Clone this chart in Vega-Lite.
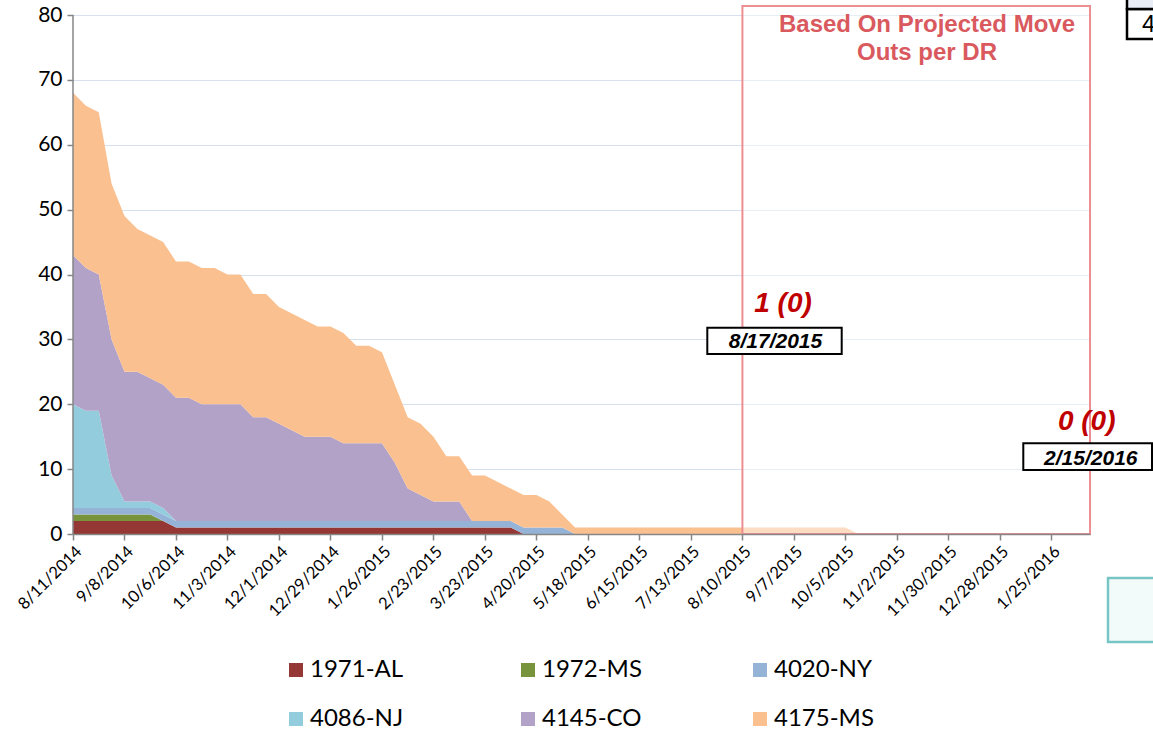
{
  "$schema": "https://vega.github.io/schema/vega-lite/v6.json",
  "width": 1017,
  "height": 519,
  "autosize": {"type": "none"},
  "padding": {"left": 73, "top": 15, "right": 63, "bottom": 202},
  "background": "white",
  "config": {"view": {"stroke": null}, "font": "Lato"},
  "layer": [
    {
      "data": {"values": [
        {"date":"2014-08-11","1971-AL":2,"1972-MS":1,"4020-NY":1,"4086-NJ":16,"4145-CO":23,"4175-MS":25},
        {"date":"2014-08-18","1971-AL":2,"1972-MS":1,"4020-NY":1,"4086-NJ":15,"4145-CO":22,"4175-MS":25},
        {"date":"2014-08-25","1971-AL":2,"1972-MS":1,"4020-NY":1,"4086-NJ":15,"4145-CO":21,"4175-MS":25},
        {"date":"2014-09-01","1971-AL":2,"1972-MS":1,"4020-NY":1,"4086-NJ":5,"4145-CO":21,"4175-MS":24},
        {"date":"2014-09-08","1971-AL":2,"1972-MS":1,"4020-NY":1,"4086-NJ":1,"4145-CO":20,"4175-MS":24},
        {"date":"2014-09-15","1971-AL":2,"1972-MS":1,"4020-NY":1,"4086-NJ":1,"4145-CO":20,"4175-MS":22},
        {"date":"2014-09-22","1971-AL":2,"1972-MS":1,"4020-NY":1,"4086-NJ":1,"4145-CO":19,"4175-MS":22},
        {"date":"2014-09-29","1971-AL":2,"1972-MS":0,"4020-NY":1,"4086-NJ":1,"4145-CO":19,"4175-MS":22},
        {"date":"2014-10-06","1971-AL":1,"1972-MS":0,"4020-NY":1,"4086-NJ":0,"4145-CO":19,"4175-MS":21},
        {"date":"2014-10-13","1971-AL":1,"1972-MS":0,"4020-NY":1,"4086-NJ":0,"4145-CO":19,"4175-MS":21},
        {"date":"2014-10-20","1971-AL":1,"1972-MS":0,"4020-NY":1,"4086-NJ":0,"4145-CO":18,"4175-MS":21},
        {"date":"2014-10-27","1971-AL":1,"1972-MS":0,"4020-NY":1,"4086-NJ":0,"4145-CO":18,"4175-MS":21},
        {"date":"2014-11-03","1971-AL":1,"1972-MS":0,"4020-NY":1,"4086-NJ":0,"4145-CO":18,"4175-MS":20},
        {"date":"2014-11-10","1971-AL":1,"1972-MS":0,"4020-NY":1,"4086-NJ":0,"4145-CO":18,"4175-MS":20},
        {"date":"2014-11-17","1971-AL":1,"1972-MS":0,"4020-NY":1,"4086-NJ":0,"4145-CO":16,"4175-MS":19},
        {"date":"2014-11-24","1971-AL":1,"1972-MS":0,"4020-NY":1,"4086-NJ":0,"4145-CO":16,"4175-MS":19},
        {"date":"2014-12-01","1971-AL":1,"1972-MS":0,"4020-NY":1,"4086-NJ":0,"4145-CO":15,"4175-MS":18},
        {"date":"2014-12-08","1971-AL":1,"1972-MS":0,"4020-NY":1,"4086-NJ":0,"4145-CO":14,"4175-MS":18},
        {"date":"2014-12-15","1971-AL":1,"1972-MS":0,"4020-NY":1,"4086-NJ":0,"4145-CO":13,"4175-MS":18},
        {"date":"2014-12-22","1971-AL":1,"1972-MS":0,"4020-NY":1,"4086-NJ":0,"4145-CO":13,"4175-MS":17},
        {"date":"2014-12-29","1971-AL":1,"1972-MS":0,"4020-NY":1,"4086-NJ":0,"4145-CO":13,"4175-MS":17},
        {"date":"2015-01-05","1971-AL":1,"1972-MS":0,"4020-NY":1,"4086-NJ":0,"4145-CO":12,"4175-MS":17},
        {"date":"2015-01-12","1971-AL":1,"1972-MS":0,"4020-NY":1,"4086-NJ":0,"4145-CO":12,"4175-MS":15},
        {"date":"2015-01-19","1971-AL":1,"1972-MS":0,"4020-NY":1,"4086-NJ":0,"4145-CO":12,"4175-MS":15},
        {"date":"2015-01-26","1971-AL":1,"1972-MS":0,"4020-NY":1,"4086-NJ":0,"4145-CO":12,"4175-MS":14},
        {"date":"2015-02-02","1971-AL":1,"1972-MS":0,"4020-NY":1,"4086-NJ":0,"4145-CO":9,"4175-MS":12},
        {"date":"2015-02-09","1971-AL":1,"1972-MS":0,"4020-NY":1,"4086-NJ":0,"4145-CO":5,"4175-MS":11},
        {"date":"2015-02-16","1971-AL":1,"1972-MS":0,"4020-NY":1,"4086-NJ":0,"4145-CO":4,"4175-MS":11},
        {"date":"2015-02-23","1971-AL":1,"1972-MS":0,"4020-NY":1,"4086-NJ":0,"4145-CO":3,"4175-MS":10},
        {"date":"2015-03-02","1971-AL":1,"1972-MS":0,"4020-NY":1,"4086-NJ":0,"4145-CO":3,"4175-MS":7},
        {"date":"2015-03-09","1971-AL":1,"1972-MS":0,"4020-NY":1,"4086-NJ":0,"4145-CO":3,"4175-MS":7},
        {"date":"2015-03-16","1971-AL":1,"1972-MS":0,"4020-NY":1,"4086-NJ":0,"4145-CO":0,"4175-MS":7},
        {"date":"2015-03-23","1971-AL":1,"1972-MS":0,"4020-NY":1,"4086-NJ":0,"4145-CO":0,"4175-MS":7},
        {"date":"2015-03-30","1971-AL":1,"1972-MS":0,"4020-NY":1,"4086-NJ":0,"4145-CO":0,"4175-MS":6},
        {"date":"2015-04-06","1971-AL":1,"1972-MS":0,"4020-NY":1,"4086-NJ":0,"4145-CO":0,"4175-MS":5},
        {"date":"2015-04-13","1971-AL":0,"1972-MS":0,"4020-NY":1,"4086-NJ":0,"4145-CO":0,"4175-MS":5},
        {"date":"2015-04-20","1971-AL":0,"1972-MS":0,"4020-NY":1,"4086-NJ":0,"4145-CO":0,"4175-MS":5},
        {"date":"2015-04-27","1971-AL":0,"1972-MS":0,"4020-NY":1,"4086-NJ":0,"4145-CO":0,"4175-MS":4},
        {"date":"2015-05-04","1971-AL":0,"1972-MS":0,"4020-NY":1,"4086-NJ":0,"4145-CO":0,"4175-MS":2},
        {"date":"2015-05-11","1971-AL":0,"1972-MS":0,"4020-NY":0,"4086-NJ":0,"4145-CO":0,"4175-MS":1},
        {"date":"2015-05-18","1971-AL":0,"1972-MS":0,"4020-NY":0,"4086-NJ":0,"4145-CO":0,"4175-MS":1},
        {"date":"2015-05-25","1971-AL":0,"1972-MS":0,"4020-NY":0,"4086-NJ":0,"4145-CO":0,"4175-MS":1},
        {"date":"2015-06-01","1971-AL":0,"1972-MS":0,"4020-NY":0,"4086-NJ":0,"4145-CO":0,"4175-MS":1},
        {"date":"2015-06-08","1971-AL":0,"1972-MS":0,"4020-NY":0,"4086-NJ":0,"4145-CO":0,"4175-MS":1},
        {"date":"2015-06-15","1971-AL":0,"1972-MS":0,"4020-NY":0,"4086-NJ":0,"4145-CO":0,"4175-MS":1},
        {"date":"2015-06-22","1971-AL":0,"1972-MS":0,"4020-NY":0,"4086-NJ":0,"4145-CO":0,"4175-MS":1},
        {"date":"2015-06-29","1971-AL":0,"1972-MS":0,"4020-NY":0,"4086-NJ":0,"4145-CO":0,"4175-MS":1},
        {"date":"2015-07-06","1971-AL":0,"1972-MS":0,"4020-NY":0,"4086-NJ":0,"4145-CO":0,"4175-MS":1},
        {"date":"2015-07-13","1971-AL":0,"1972-MS":0,"4020-NY":0,"4086-NJ":0,"4145-CO":0,"4175-MS":1},
        {"date":"2015-07-20","1971-AL":0,"1972-MS":0,"4020-NY":0,"4086-NJ":0,"4145-CO":0,"4175-MS":1},
        {"date":"2015-07-27","1971-AL":0,"1972-MS":0,"4020-NY":0,"4086-NJ":0,"4145-CO":0,"4175-MS":1},
        {"date":"2015-08-03","1971-AL":0,"1972-MS":0,"4020-NY":0,"4086-NJ":0,"4145-CO":0,"4175-MS":1},
        {"date":"2015-08-10","1971-AL":0,"1972-MS":0,"4020-NY":0,"4086-NJ":0,"4145-CO":0,"4175-MS":1},
        {"date":"2015-08-17","1971-AL":0,"1972-MS":0,"4020-NY":0,"4086-NJ":0,"4145-CO":0,"4175-MS":1},
        {"date":"2015-08-24","1971-AL":0,"1972-MS":0,"4020-NY":0,"4086-NJ":0,"4145-CO":0,"4175-MS":1},
        {"date":"2015-08-31","1971-AL":0,"1972-MS":0,"4020-NY":0,"4086-NJ":0,"4145-CO":0,"4175-MS":1},
        {"date":"2015-09-07","1971-AL":0,"1972-MS":0,"4020-NY":0,"4086-NJ":0,"4145-CO":0,"4175-MS":1},
        {"date":"2015-09-14","1971-AL":0,"1972-MS":0,"4020-NY":0,"4086-NJ":0,"4145-CO":0,"4175-MS":1},
        {"date":"2015-09-21","1971-AL":0,"1972-MS":0,"4020-NY":0,"4086-NJ":0,"4145-CO":0,"4175-MS":1},
        {"date":"2015-09-28","1971-AL":0,"1972-MS":0,"4020-NY":0,"4086-NJ":0,"4145-CO":0,"4175-MS":1},
        {"date":"2015-10-05","1971-AL":0,"1972-MS":0,"4020-NY":0,"4086-NJ":0,"4145-CO":0,"4175-MS":1},
        {"date":"2015-10-12","1971-AL":0,"1972-MS":0,"4020-NY":0,"4086-NJ":0,"4145-CO":0,"4175-MS":0},
        {"date":"2015-10-19","1971-AL":0,"1972-MS":0,"4020-NY":0,"4086-NJ":0,"4145-CO":0,"4175-MS":0},
        {"date":"2015-10-26","1971-AL":0,"1972-MS":0,"4020-NY":0,"4086-NJ":0,"4145-CO":0,"4175-MS":0},
        {"date":"2015-11-02","1971-AL":0,"1972-MS":0,"4020-NY":0,"4086-NJ":0,"4145-CO":0,"4175-MS":0},
        {"date":"2015-11-09","1971-AL":0,"1972-MS":0,"4020-NY":0,"4086-NJ":0,"4145-CO":0,"4175-MS":0},
        {"date":"2015-11-16","1971-AL":0,"1972-MS":0,"4020-NY":0,"4086-NJ":0,"4145-CO":0,"4175-MS":0},
        {"date":"2015-11-23","1971-AL":0,"1972-MS":0,"4020-NY":0,"4086-NJ":0,"4145-CO":0,"4175-MS":0},
        {"date":"2015-11-30","1971-AL":0,"1972-MS":0,"4020-NY":0,"4086-NJ":0,"4145-CO":0,"4175-MS":0},
        {"date":"2015-12-07","1971-AL":0,"1972-MS":0,"4020-NY":0,"4086-NJ":0,"4145-CO":0,"4175-MS":0},
        {"date":"2015-12-14","1971-AL":0,"1972-MS":0,"4020-NY":0,"4086-NJ":0,"4145-CO":0,"4175-MS":0},
        {"date":"2015-12-21","1971-AL":0,"1972-MS":0,"4020-NY":0,"4086-NJ":0,"4145-CO":0,"4175-MS":0},
        {"date":"2015-12-28","1971-AL":0,"1972-MS":0,"4020-NY":0,"4086-NJ":0,"4145-CO":0,"4175-MS":0},
        {"date":"2016-01-04","1971-AL":0,"1972-MS":0,"4020-NY":0,"4086-NJ":0,"4145-CO":0,"4175-MS":0},
        {"date":"2016-01-11","1971-AL":0,"1972-MS":0,"4020-NY":0,"4086-NJ":0,"4145-CO":0,"4175-MS":0},
        {"date":"2016-01-18","1971-AL":0,"1972-MS":0,"4020-NY":0,"4086-NJ":0,"4145-CO":0,"4175-MS":0},
        {"date":"2016-01-25","1971-AL":0,"1972-MS":0,"4020-NY":0,"4086-NJ":0,"4145-CO":0,"4175-MS":0},
        {"date":"2016-02-01","1971-AL":0,"1972-MS":0,"4020-NY":0,"4086-NJ":0,"4145-CO":0,"4175-MS":0},
        {"date":"2016-02-08","1971-AL":0,"1972-MS":0,"4020-NY":0,"4086-NJ":0,"4145-CO":0,"4175-MS":0},
        {"date":"2016-02-15","1971-AL":0,"1972-MS":0,"4020-NY":0,"4086-NJ":0,"4145-CO":0,"4175-MS":0}
      ]},
      "transform": [{"fold": ["1971-AL","1972-MS","4020-NY","4086-NJ","4145-CO","4175-MS"], "as": ["series","count"]}],
      "mark": {"type": "area", "interpolate": "linear"},
      "encoding": {
        "x": {
          "field": "date", "type": "temporal", "title": null,
          "scale": {"type": "utc", "domain": [1407715200000, 1455494400000], "nice": false},
          "axis": {
            "values": [1407715200000,1408320000000,1408924800000,1409529600000,1410134400000,1410739200000,1411344000000,1411948800000,1412553600000,1413158400000,1413763200000,1414368000000,1414972800000,1415577600000,1416182400000,1416787200000,1417392000000,1417996800000,1418601600000,1419206400000,1419811200000,1420416000000,1421020800000,1421625600000,1422230400000,1422835200000,1423440000000,1424044800000,1424649600000,1425254400000,1425859200000,1426464000000,1427068800000,1427673600000,1428278400000,1428883200000,1429488000000,1430092800000,1430697600000,1431302400000,1431907200000,1432512000000,1433116800000,1433721600000,1434326400000,1434931200000,1435536000000,1436140800000,1436745600000,1437350400000,1437955200000,1438560000000,1439164800000,1439769600000,1440374400000,1440979200000,1441584000000,1442188800000,1442793600000,1443398400000,1444003200000,1444608000000,1445212800000,1445817600000,1446422400000,1447027200000,1447632000000,1448236800000,1448841600000,1449446400000,1450051200000,1450656000000,1451260800000,1451865600000,1452470400000,1453075200000,1453680000000,1454284800000,1454889600000,1455494400000],
            "labelExpr": "(round((datum.value - 1407715200000) / 604800000) % 4 == 0) ? utcFormat(datum.value, '%-m/%-d/%Y') : ''",
            "labelAngle": -45, "labelAlign": "right", "labelBaseline": "top",
            "labelFont": "Lato", "labelFontSize": 16.5, "labelColor": "#000000",
            "labelOverlap": false, "labelFlush": false, "labelPadding": 3,
            "tickColor": "#868686", "tickSize": 6, "tickWidth": 1.5,
            "domainColor": "#868686", "domainWidth": 1.5,
            "grid": false, "title": null, "zindex": 1
          }
        },
        "y": {
          "field": "count", "type": "quantitative", "stack": "zero", "title": null,
          "scale": {"domain": [0, 80], "nice": false},
          "axis": {
            "values": [0,10,20,30,40,50,60,70,80],
            "labelFont": "Lato", "labelFontSize": 21, "labelColor": "#000000", "labelPadding": 5,
            "tickColor": "#868686", "tickSize": 6, "tickWidth": 1.5,
            "domain": false, "grid": true, "gridColor": "#D6E0EF", "gridWidth": 1,
            "title": null, "zindex": 0
          }
        },
        "color": {
          "field": "series", "type": "nominal",
          "scale": {"domain": ["1971-AL","1972-MS","4020-NY","4086-NJ","4145-CO","4175-MS"],
                    "range": ["#953735","#77933C","#95B3D7","#93CDDD","#B3A2C7","#FAC090"]},
          "legend": {
            "title": null, "orient": "none", "legendX": 211, "legendY": 643,
            "direction": "horizontal", "columns": 3, "gridAlign": "all",
            "symbolType": "square", "symbolSize": 196, "symbolStrokeWidth": 0, "symbolOpacity": 1,
            "labelFont": "Lato", "labelFontSize": 24, "labelColor": "#000000", "labelOffset": 2,
            "columnPadding": 106, "rowPadding": 25, "padding": 0
          }
        },
        "order": {"field": "series", "type": "ordinal", "sort": "ascending"}
      }
    },
    {
      "data": {"values": [{"x": 1407715200000, "y": 0, "y2": 80}]},
      "mark": {"type": "rule", "color": "#868686", "strokeWidth": 1.5, "clip": false},
      "encoding": {
        "x": {"field": "x", "type": "temporal", "title": null, "scale": {"type": "utc", "domain": [1407715200000, 1455494400000], "nice": false}},
        "y": {"field": "y", "type": "quantitative", "title": null, "scale": {"domain": [0, 80], "nice": false}},
        "y2": {"field": "y2"}
      }
    },
    {
      "data": {"values": [{"x": 1439164800000, "x2": 1455494400000, "y": 0, "y2": 81.39}]},
      "mark": {"type": "rect", "fill": "#FFFFFF", "fillOpacity": 0.45, "stroke": "#EC8E92", "strokeWidth": 2, "clip": false},
      "encoding": {
        "x": {"field": "x", "type": "temporal", "title": null, "scale": {"type": "utc", "domain": [1407715200000, 1455494400000], "nice": false}},
        "x2": {"field": "x2"},
        "y": {"field": "y", "type": "quantitative", "title": null, "scale": {"domain": [0, 80], "nice": false}},
        "y2": {"field": "y2"}
      }
    },
    {
      "data": {"values": [
        {"x": 1447836573000, "y": 77.43, "t": "Based On Projected Move"},
        {"x": 1447836573000, "y": 73.06, "t": "Outs per DR"}
      ]},
      "mark": {"type": "text", "font": "Liberation Sans", "fontWeight": "bold", "fontSize": 24, "color": "#D9595E", "align": "center", "baseline": "alphabetic", "clip": false},
      "encoding": {
        "x": {"field": "x", "type": "temporal", "title": null, "scale": {"type": "utc", "domain": [1407715200000, 1455494400000], "nice": false}},
        "y": {"field": "y", "type": "quantitative", "title": null, "scale": {"domain": [0, 80], "nice": false}},
        "text": {"field": "t"}
      }
    },
    {
      "data": {"values": [
        {"x": 1437514950800, "x2": 1443829134200, "y": 31.8, "y2": 27.75},
        {"x": 1452360799000, "x2": 1458407193000, "y": 13.98, "y2": 9.87}
      ]},
      "mark": {"type": "rect", "fill": "#FFFFFF", "stroke": "#000000", "strokeWidth": 2, "clip": false},
      "encoding": {
        "x": {"field": "x", "type": "temporal", "title": null, "scale": {"type": "utc", "domain": [1407715200000, 1455494400000], "nice": false}},
        "x2": {"field": "x2"},
        "y": {"field": "y", "type": "quantitative", "title": null, "scale": {"domain": [0, 80], "nice": false}},
        "y2": {"field": "y2"}
      }
    },
    {
      "data": {"values": [
        {"x": 1440719023000, "y": 28.62, "t": "8/17/2015"},
        {"x": 1455531985000, "y": 10.64, "t": "2/15/2016"}
      ]},
      "mark": {"type": "text", "font": "Liberation Sans", "fontWeight": "bold", "fontStyle": "italic", "fontSize": 21, "color": "#000000", "align": "center", "baseline": "alphabetic", "clip": false},
      "encoding": {
        "x": {"field": "x", "type": "temporal", "title": null, "scale": {"type": "utc", "domain": [1407715200000, 1455494400000], "nice": false}},
        "y": {"field": "y", "type": "quantitative", "title": null, "scale": {"domain": [0, 80], "nice": false}},
        "text": {"field": "t"}
      }
    },
    {
      "data": {"values": [
        {"x": 1441071377000, "y": 34.27, "t": "1 (0)"},
        {"x": 1455339364000, "y": 16.03, "t": "0 (0)"}
      ]},
      "mark": {"type": "text", "font": "Liberation Sans", "fontWeight": "bold", "fontStyle": "italic", "fontSize": 28, "color": "#C00000", "align": "center", "baseline": "alphabetic", "clip": false},
      "encoding": {
        "x": {"field": "x", "type": "temporal", "title": null, "scale": {"type": "utc", "domain": [1407715200000, 1455494400000], "nice": false}},
        "y": {"field": "y", "type": "quantitative", "title": null, "scale": {"domain": [0, 80], "nice": false}},
        "text": {"field": "t"}
      }
    },
    {
      "data": {"values": [
        {"x": 1456340050000, "x2": 1458783037000, "y": -6.78, "y2": -16.65, "f": "#F3FAFA", "s": "#78C5C5"},
        {"x": 1457232680000, "x2": 1459252840000, "y": 80.92, "y2": 76.3, "f": "#FFFFFF", "s": "#000000"},
        {"x": 1457232680000, "x2": 1459252840000, "y": 83.78, "y2": 80.92, "f": "#E9EDF5", "s": "#000000"}
      ]},
      "mark": {"type": "rect", "strokeWidth": 2.5, "clip": false},
      "encoding": {
        "x": {"field": "x", "type": "temporal", "title": null, "scale": {"type": "utc", "domain": [1407715200000, 1455494400000], "nice": false}},
        "x2": {"field": "x2"},
        "y": {"field": "y", "type": "quantitative", "title": null, "scale": {"domain": [0, 80], "nice": false}},
        "y2": {"field": "y2"},
        "fill": {"field": "f", "type": "nominal", "scale": null},
        "stroke": {"field": "s", "type": "nominal", "scale": null}
      }
    },
    {
      "data": {"values": [{"x": 1457937388000, "y": 77.43, "t": "4"}]},
      "mark": {"type": "text", "font": "Liberation Sans", "fontSize": 24, "color": "#000000", "align": "left", "baseline": "alphabetic", "clip": false},
      "encoding": {
        "x": {"field": "x", "type": "temporal", "title": null, "scale": {"type": "utc", "domain": [1407715200000, 1455494400000], "nice": false}},
        "y": {"field": "y", "type": "quantitative", "title": null, "scale": {"domain": [0, 80], "nice": false}},
        "text": {"field": "t"}
      }
    }
  ]
}
